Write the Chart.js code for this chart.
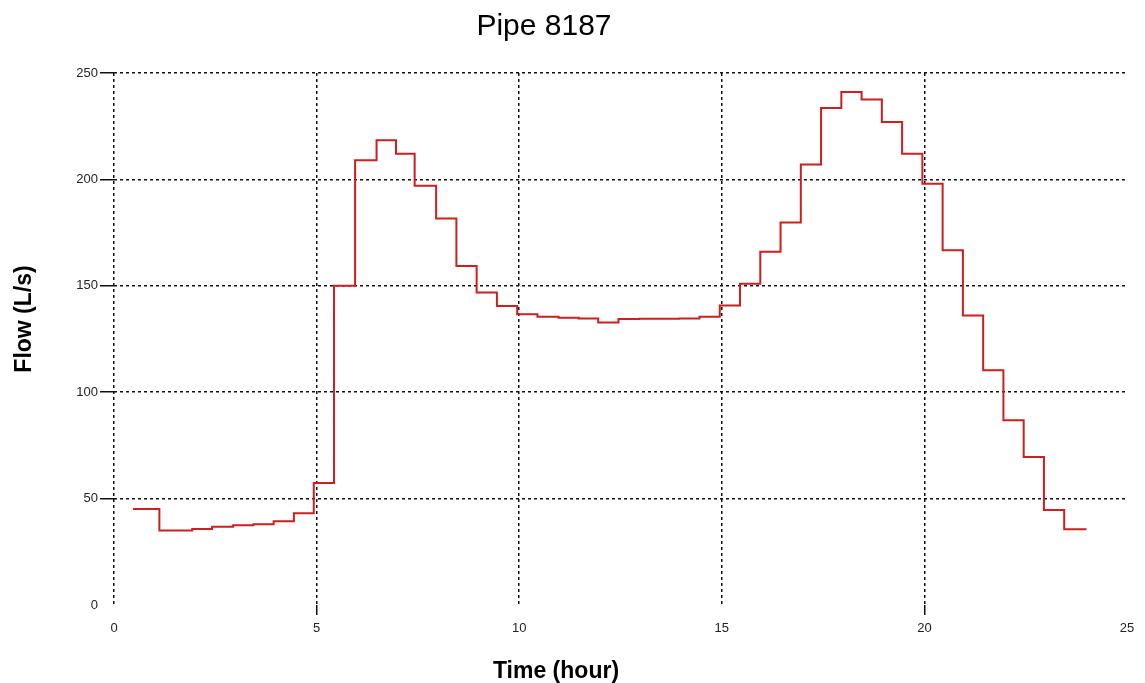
<!DOCTYPE html>
<html>
<head>
<meta charset="utf-8">
<title>Pipe 8187</title>
<script src="https://cdn.jsdelivr.net/npm/chart.js@4.4.0/dist/chart.umd.min.js"></script>
<style>
  body { margin: 0; background: #fff; }
</style>
</head>
<body>
<canvas id="myChart" width="1145" height="683"></canvas>
<script>
// step flow in pipe 8187, each value holds until the next time
var hours = [0.47, 1.12, 1.93, 2.42, 2.94, 3.44, 3.94, 4.44, 4.93, 5.43,
             5.95, 6.48, 6.96, 7.42, 7.95, 8.45, 8.95, 9.45, 9.95, 10.45,
             10.97, 11.47, 11.95, 12.45, 12.96, 13.95, 14.45, 14.95, 15.45, 15.95,
             16.45, 16.95, 17.45, 17.95, 18.45, 18.95, 19.45, 19.95, 20.45, 20.95,
             21.45, 21.95, 22.45, 22.95, 23.45, 24.0];
var flows = [45.1, 35.0, 35.7, 36.8, 37.5, 38.0, 39.3, 43.1, 57.3, 150,
             209, 218.4, 212, 197, 181.6, 159.3, 146.8, 140.5, 136.6, 135.5,
             135, 134.6, 132.7, 134.4, 134.5, 134.6, 135.5, 140.8, 151, 166,
             179.7, 207, 233.6, 241.1, 237.5, 227, 212, 198, 166.7, 136,
             110.3, 86.8, 69.5, 44.7, 35.6, 35.6];
var xTicks = [0, 5, 10, 15, 20, 25];
var yTicks = [0, 50, 100, 150, 200, 250];

var chartTitle = 'Pipe 8187';
var xTitle = 'Time (hour)';
var yTitle = 'Flow (L/s)';

var points = hours.map(function(h, i) { return { x: h, y: flows[i] }; });

var chartTexts = {
  id: 'chartTexts',
  afterDraw: function(chart) {
    var c = chart.ctx;
    c.save();
    c.fillStyle = '#000';
    c.textAlign = 'center';
    c.textBaseline = 'alphabetic';
    c.font = '30px "Liberation Sans", Arial, sans-serif';
    c.fillText(chartTitle, 544, 35);
    c.font = 'bold 23px "Liberation Sans", Arial, sans-serif';
    c.fillText(xTitle, 556, 678);
    c.translate(31, 319);
    c.rotate(-Math.PI / 2);
    c.fillText(yTitle, 0, 0);
    c.restore();
  }
};

var ctx = document.getElementById("myChart");
var myChart = new Chart(ctx, {
    type: 'line',
    data: {
        datasets: [{
            label: 'Flow',
            data: points,
            borderColor: '#cc1f1f',
            borderWidth: 2,
            pointRadius: 0,
            stepped: 'before',
            fill: false
        }]
    },
    options: {
        responsive: false,
        animation: false,
        layout: { padding: { top: 73, right: 18, left: 0, bottom: 0 } },
        plugins: {
            legend: { display: false },
            tooltip: { enabled: false }
        },
        scales: {
            x: {
                type: 'linear',
                min: 0,
                max: 25,
                afterBuildTicks: function(axis) {
                    axis.ticks = xTicks.map(function(v) { return { value: v }; });
                },
                afterFit: function(scale) { scale.height = 78; },
                border: { display: false, dash: [3, 3] },
                grid: {
                    color: function(c) { return c.tick && c.tick.value === 25 ? 'rgba(0,0,0,0)' : '#111'; },
                    lineWidth: 1.5,
                    tickLength: 10,
                    tickColor: function(c) { return c.tick && (c.tick.value === 5 || c.tick.value === 20) ? '#111' : 'rgba(0,0,0,0)'; },
                    tickBorderDash: [],
                    tickWidth: 1.5
                },
                ticks: {
                    padding: 6,
                    color: '#222',
                    font: { family: '"Liberation Sans", Arial, sans-serif', size: 13 }
                }
            },
            y: {
                min: 0,
                max: 250,
                afterBuildTicks: function(axis) {
                    axis.ticks = yTicks.map(function(v) { return { value: v }; });
                },
                afterFit: function(scale) { scale.width = 114; },
                border: { display: false, dash: [3, 3] },
                grid: {
                    color: function(c) { return c.tick && c.tick.value === 0 ? 'rgba(0,0,0,0)' : '#111'; },
                    lineWidth: 1.5,
                    tickLength: 14,
                    tickColor: function(c) { return c.tick && c.tick.value === 0 ? 'rgba(0,0,0,0)' : '#111'; },
                    tickBorderDash: [],
                    tickWidth: 1.5
                },
                ticks: {
                    padding: 2,
                    color: '#222',
                    font: { family: '"Liberation Sans", Arial, sans-serif', size: 13 }
                }
            }
        }
    },
    plugins: [chartTexts]
});
</script>
</body>
</html>
